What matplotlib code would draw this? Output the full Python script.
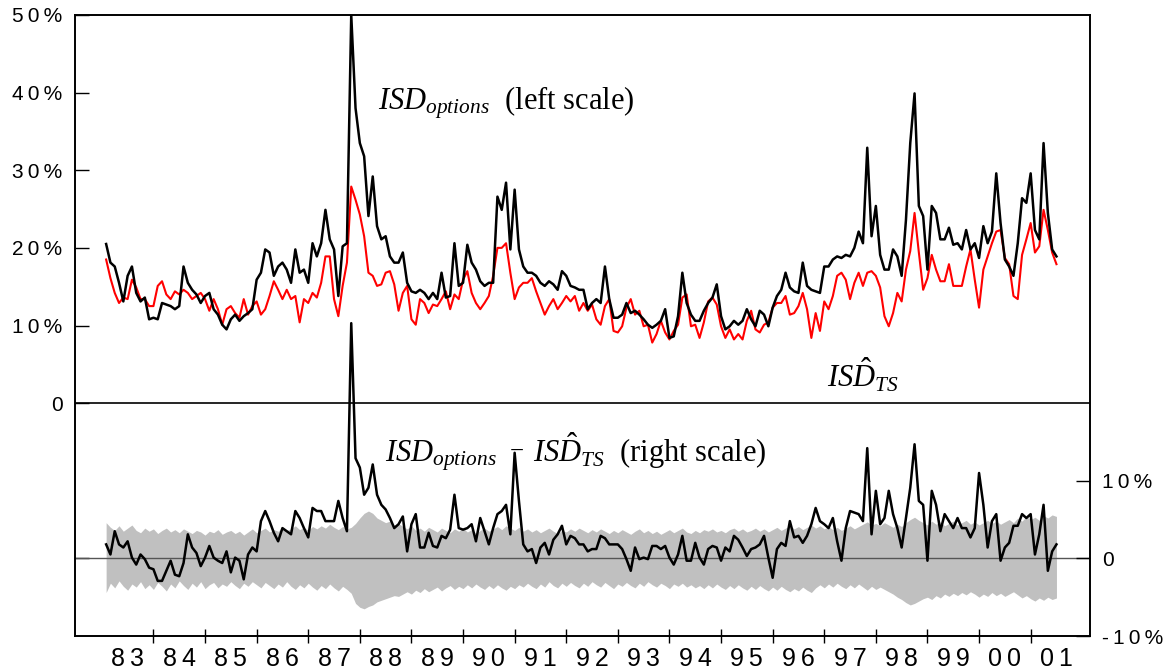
import matplotlib
matplotlib.use("Agg")
import matplotlib.pyplot as plt
import numpy as np
import pandas as pd

plt.rcParams['font.family'] = ['Liberation Sans', 'DejaVu Sans']
plt.rcParams['mathtext.fontset'] = 'custom'
plt.rcParams['mathtext.it'] = 'Liberation Serif:italic'
plt.rcParams['mathtext.rm'] = 'Liberation Serif'

# monthly observations, Feb 1983 .. Jul 2001 (values in %)
dates = pd.date_range('1983-02-01', periods=222, freq='MS')

isd_options = [
    20.5, 18.1, 17.6, 15.5, 13.1, 16.4, 17.6, 14.2, 13.1, 13.6,
    10.8, 11.0, 10.8, 12.9, 12.7, 12.5, 12.1, 12.5, 17.6, 15.5,
    14.6, 14.0, 12.9, 13.8, 14.2, 12.1, 11.4, 10.1, 9.5, 10.8,
    11.4, 10.6, 11.2, 11.6, 12.1, 15.9, 16.8, 19.8, 19.4, 16.4,
    17.6, 18.1, 17.2, 15.5, 19.8, 16.8, 17.2, 15.5, 20.6, 18.9,
    20.6, 24.9, 21.1, 19.8, 13.8, 20.2, 20.6, 50.0, 38.0, 33.5,
    31.8, 24.1, 29.2, 22.8, 21.1, 21.5, 18.9, 18.1, 18.1, 19.4,
    15.5, 14.4, 14.2, 14.6, 14.2, 13.4, 14.2, 13.4, 16.8, 13.6,
    13.8, 20.6, 15.1, 15.5, 20.4, 18.1, 17.2, 15.7, 15.1, 15.5,
    15.5, 26.6, 24.9, 28.4, 19.8, 27.5, 19.8, 17.6, 16.8, 16.8,
    16.4, 15.5, 15.1, 15.7, 15.3, 14.6, 17.0, 16.4, 15.1, 14.9,
    14.6, 14.6, 12.1, 12.9, 13.4, 12.9, 17.6, 13.4, 11.0, 11.0,
    11.4, 12.9, 11.6, 11.9, 11.4, 10.8, 10.1, 9.7, 10.1, 10.6,
    12.1, 8.4, 8.6, 11.2, 16.8, 12.9, 11.4, 10.6, 10.6, 11.9,
    12.9, 13.6, 15.3, 11.2, 9.5, 9.9, 10.6, 10.1, 10.6, 12.1,
    10.8, 9.9, 11.9, 11.4, 9.9, 12.3, 13.8, 14.6, 16.8, 14.9,
    14.4, 14.2, 18.1, 15.1, 14.6, 14.4, 14.2, 17.6, 17.6, 18.5,
    18.9, 18.7, 19.1, 18.9, 20.0, 22.1, 20.6, 32.9, 21.5, 25.4,
    19.1, 17.2, 17.2, 19.8, 18.9, 16.4, 23.6, 33.5, 39.9, 25.4,
    24.1, 17.2, 25.4, 24.5, 21.1, 21.1, 22.6, 20.4, 20.6, 19.8,
    22.3, 19.8, 20.6, 18.7, 22.8, 20.6, 22.1, 29.6, 23.2, 18.5,
    17.6, 16.4, 20.6, 26.4, 25.8, 29.6, 22.3, 21.1, 33.5, 24.5,
    19.8, 18.9,
]

isd_ts = [
    18.5, 16.1, 14.2, 12.9, 13.6, 13.4, 15.9, 14.9, 13.4, 13.4,
    12.5, 12.5, 15.1, 15.7, 14.0, 13.4, 14.4, 14.0, 14.6, 14.2,
    13.4, 13.8, 14.2, 13.4, 11.9, 13.4, 12.1, 10.1, 12.1, 12.5,
    11.6, 11.0, 13.4, 11.4, 12.5, 13.1, 11.4, 12.1, 13.8, 15.7,
    14.6, 13.4, 14.6, 13.4, 13.8, 10.4, 13.4, 12.9, 14.2, 13.6,
    15.5, 18.9, 18.9, 13.4, 11.2, 15.1, 18.1, 27.9, 26.2, 24.3,
    21.5, 16.8, 16.4, 15.1, 15.3, 16.8, 17.0, 15.3, 11.9, 14.2,
    15.1, 10.8, 10.1, 13.4, 12.9, 11.6, 12.7, 12.5, 13.4, 14.4,
    12.1, 14.0, 13.4, 15.9, 17.0, 14.2, 12.9, 12.1, 12.9, 13.8,
    16.4, 20.0, 20.0, 20.6, 16.8, 13.4, 14.9, 15.5, 15.5, 16.1,
    14.4, 12.9, 11.4, 12.5, 13.4, 12.1, 12.9, 13.8, 13.1, 13.8,
    11.9, 12.9, 11.9, 12.7, 10.8, 10.1, 12.5, 13.4, 9.3, 9.1,
    9.9, 12.3, 13.4, 11.4, 11.9, 9.9, 10.1, 7.8, 8.9, 10.6,
    9.1, 8.2, 9.3, 10.1, 13.6, 14.0, 9.9, 10.1, 8.4, 10.4,
    13.1, 13.6, 12.7, 9.9, 8.4, 9.5, 8.2, 8.9, 8.2, 10.6,
    11.9, 9.5, 9.1, 10.1, 10.4, 12.3, 12.9, 12.9, 13.8, 11.4,
    11.6, 12.5, 14.2, 12.1, 8.4, 11.6, 9.3, 13.1, 12.1, 13.8,
    16.4, 16.8, 15.9, 13.4, 15.5, 16.8, 15.1, 16.8, 17.0, 16.4,
    14.9, 11.2, 9.9, 11.6, 14.2, 13.1, 17.2, 19.6, 24.5, 19.4,
    14.6, 16.1, 19.1, 17.2, 15.7, 15.7, 17.9, 15.1, 15.1, 15.1,
    17.6, 19.8, 15.9, 12.3, 17.2, 18.9, 20.6, 22.1, 22.3, 18.7,
    17.9, 13.8, 13.4, 19.1, 21.1, 23.2, 19.4, 20.2, 24.9, 22.3,
    19.4, 17.9,
]

# ISD_options - ISD_TS (right scale)
spread = [
    1.8, 0.5, 3.5, 1.8, 1.4, 2.2, 0.1, -0.8, 0.5, -0.1,
    -1.2, -1.4, -2.9, -2.9, -1.6, -0.3, -2.1, -2.3, -0.6, 3.1,
    1.4, 0.7, -1.0, 0.1, 1.6, 0.1, -0.3, -0.6, 0.9, -1.8,
    0.1, -0.3, -2.7, 0.5, 1.4, 0.9, 4.8, 6.1, 4.8, 3.3,
    2.2, 3.9, 3.5, 3.1, 6.1, 5.2, 3.9, 2.7, 6.5, 6.1,
    6.1, 4.8, 4.8, 4.8, 7.4, 5.2, 3.5, 30.3, 12.9, 11.7,
    8.2, 9.1, 12.1, 8.2, 6.9, 6.3, 5.2, 3.9, 4.4, 5.4,
    0.9, 4.4, 5.7, 1.4, 1.4, 3.3, 1.6, 1.4, 2.9, 2.6,
    3.7, 8.2, 3.9, 3.7, 3.9, 4.4, 2.2, 5.2, 3.5, 1.8,
    3.9, 5.7, 6.1, 6.9, 3.1, 13.6, 7.4, 1.8, 0.9, 1.2,
    -0.6, 1.4, 2.0, 0.5, 2.4, 3.1, 4.2, 1.8, 2.9, 2.6,
    1.8, 1.8, 0.9, 1.2, 1.2, 2.9, 2.6, 1.8, 1.8, 1.8,
    1.2, -0.1, -1.6, 1.4, -0.1, 0.1, -0.1, 1.6, 1.6, 1.2,
    1.6, 0.1, -0.8, 0.5, 2.9, -0.3, -0.3, 2.0, 0.1, -0.8,
    1.2, 1.6, 1.4, -0.3, 1.4, 0.9, 2.9, 2.4, 1.4, 0.3,
    1.2, 1.4, 1.8, 2.9, 0.1, -2.5, 1.2, 2.0, 1.6, 4.8,
    2.7, 2.9, 2.0, 2.9, 4.4, 6.5, 4.8, 4.4, 3.9, 5.2,
    2.2, -0.3, 3.9, 6.1, 5.9, 5.7, 4.8, 14.2, 3.1, 8.7,
    4.4, 5.2, 8.7, 5.7, 3.9, 1.4, 5.2, 9.1, 14.7, 7.4,
    6.9, -0.3, 8.7, 6.9, 3.5, 5.7, 4.8, 3.9, 5.2, 3.9,
    3.9, 2.7, 3.9, 11.0, 6.9, 1.4, 4.8, 5.7, -0.3, 1.4,
    2.0, 4.2, 4.2, 5.7, 5.2, 5.7, 0.5, 3.1, 6.9, -1.6,
    0.9, 1.8,
]

band_hi = [
    4.6, 4.0, 3.6, 4.2, 3.5, 3.9, 4.3, 3.6, 3.3, 3.9,
    3.5, 3.8, 3.2, 3.6, 3.9, 3.4, 3.7, 3.3, 3.8, 3.5,
    3.2, 3.6, 3.4, 3.0, 3.5, 3.3, 3.7, 3.1, 3.4, 3.6,
    3.2, 3.5, 3.0, 3.4, 3.8, 3.3, 3.6, 3.9, 3.4, 3.7,
    3.5, 4.0, 3.6, 3.8, 4.2, 3.7, 4.0, 3.6, 4.1, 3.8,
    4.2, 3.9, 4.4, 4.0, 3.7, 4.1, 3.8, 4.0, 4.5, 5.2,
    5.8, 6.1, 5.8, 5.2, 4.9, 4.6, 4.8, 4.3, 4.5, 4.1,
    3.8, 4.2, 3.6, 3.9, 3.5, 4.0, 3.7, 3.4, 3.9, 3.6,
    3.3, 3.8, 3.5, 3.9, 3.4, 3.7, 3.2, 3.6, 3.9, 3.5,
    3.8, 4.1, 3.7, 4.2, 3.9, 3.6, 4.0, 3.5, 3.8, 3.4,
    3.7, 3.3, 3.6, 3.9, 3.5, 3.2, 3.6, 3.4, 3.8, 3.5,
    3.9, 3.6, 3.3, 3.7, 3.4, 3.8, 3.5, 3.2, 3.6, 3.3,
    3.7, 3.4, 3.1, 3.5, 3.8, 3.3, 3.6, 3.2, 3.5, 3.1,
    3.4, 3.7, 3.3, 3.6, 3.9, 3.4, 3.2, 3.6, 3.3, 3.7,
    3.5, 3.8, 3.4, 3.6, 3.3, 3.7, 3.9, 3.5, 3.8, 3.4,
    3.6, 3.9, 3.5, 3.8, 3.4, 3.7, 4.0, 3.6, 3.9, 4.2,
    3.8, 4.1, 3.7, 4.0, 4.3, 3.9, 4.2, 3.8, 4.1, 3.7,
    4.0, 3.6, 3.9, 4.2, 3.8, 4.1, 4.4, 4.7, 4.3, 4.5,
    4.2, 4.6, 4.3, 4.0, 4.4, 4.1, 4.6, 5.0, 5.3, 4.9,
    4.6, 4.3, 4.8, 4.4, 4.7, 4.2, 4.5, 4.8, 4.3, 4.6,
    4.9, 4.4, 4.7, 4.3, 4.6, 4.9, 4.5, 4.8, 4.4, 4.7,
    5.0, 4.6, 5.2, 4.8, 5.4, 5.0, 5.3, 4.9, 5.5, 5.2,
    5.6, 5.4,
]

band_lo = [
    -4.4, -3.2, -3.8, -2.9, -3.6, -4.1, -3.3, -3.7, -3.0, -3.9,
    -3.4, -4.0, -3.1, -3.6, -4.2, -3.3, -3.8, -2.9, -3.5, -4.0,
    -3.2, -3.7, -3.0, -3.9, -3.4, -3.1, -3.8, -3.3, -3.6, -3.0,
    -3.5, -3.9, -3.2, -3.6, -3.0, -3.4, -3.8, -3.1, -3.5, -3.9,
    -3.3, -3.7, -3.0, -3.6, -4.0, -3.4, -3.8, -3.2, -3.7, -4.1,
    -3.5, -3.9, -3.3, -3.8, -4.2, -3.6, -4.0, -4.5, -5.8, -6.3,
    -6.5, -6.2, -6.0, -5.6, -5.4, -5.2, -5.0, -4.8, -4.9, -4.6,
    -4.3, -4.6, -4.1, -4.4, -3.9, -4.3, -4.0, -3.7, -4.2, -3.8,
    -3.5, -4.0, -3.6, -3.9, -3.4, -3.8, -3.3, -3.7, -4.0, -3.5,
    -3.9, -3.4, -3.8, -4.1, -3.6, -3.9, -3.4, -3.7, -3.2, -3.6,
    -3.9, -3.3, -3.7, -3.0, -3.5, -3.8, -3.2, -3.6, -3.1, -3.5,
    -3.8, -3.2, -3.6, -3.0, -3.4, -3.7, -3.1, -3.5, -3.9, -3.3,
    -3.6, -3.1, -3.5, -3.8, -3.2, -3.6, -3.0, -3.4, -3.7, -3.2,
    -3.5, -3.9, -3.3, -3.6, -3.2, -3.7, -3.4, -3.8, -3.5, -3.9,
    -3.4, -3.8, -3.3, -3.7, -4.0, -3.5, -3.9, -3.4, -3.8, -4.1,
    -3.6, -4.0, -3.5, -3.9, -4.2, -3.7, -4.1, -3.6, -4.0, -4.3,
    -3.9, -4.2, -3.7, -4.1, -4.4, -3.8, -3.4, -3.8, -3.3, -3.7,
    -3.2, -3.6, -3.9, -3.4, -3.8, -3.3, -3.7, -4.1, -3.6, -4.0,
    -3.7, -4.0, -4.3, -4.6, -5.0, -5.3, -5.7, -6.0, -5.8, -5.5,
    -5.2, -5.0, -5.3, -4.8, -5.1, -4.6, -4.9, -4.5, -4.8, -4.4,
    -4.7, -4.3, -4.6, -5.0, -4.6, -4.9, -4.4, -4.8, -4.5, -4.9,
    -4.6, -4.3, -4.7, -5.1, -4.8, -5.2, -5.5, -5.1, -5.4, -5.0,
    -5.3, -5.1,
]

years = list(range(1983, 2002))
year_labels = ['%02d' % (y % 100) for y in years]
left_labels = ['', '0', '10%', '20%', '30%', '40%', '50%']
right_labels = ['-10%', '0', '10%']


def spaced(s):
    # the original tick labels are drawn with wide letter spacing
    return '\u2009'.join(s)


t = dates.year + (dates.month - 1) / 12.0
top_black = np.array(isd_options) / 100
top_red = np.array(isd_ts) / 100
# lower panel sits 20 points below on the left scale (right scale = left + 0.2)
shift = 0.20
low = np.array(spread) / 100 - shift
hi = np.array(band_hi) / 100 - shift
lo = np.array(band_lo) / 100 - shift

fig = plt.figure(figsize=(11.72, 6.71), dpi=100)
ax = fig.add_axes([75 / 1172, 35 / 671, 1015 / 1172, 621 / 671])

ax.fill_between(t, lo, hi, color='#c0c0c0', lw=0, zorder=1)
ax.axhline(-shift, color='#555555', lw=1.0, zorder=2)
ax.axhline(0, color='black', lw=1.2, zorder=2)
ax.plot(t, low, color='black', lw=1.8, zorder=3)
ax.plot(t, top_red, color='#ff0000', lw=1.5, zorder=3)
ax.plot(t, top_black, color='black', lw=1.8, zorder=4)

ax.set_xlim(1982.48, 2002.15)
ax.set_ylim(-0.30, 0.50)

ax.set_xticks(years[1:])
ax.set_xticklabels([])
ax.set_xticks([y + 0.5 for y in years], minor=True)
ax.set_xticklabels([spaced(s) for s in year_labels], minor=True, fontsize=18)
ax.tick_params(axis='x', which='major', direction='inout', length=9.5, width=1)
ax.tick_params(axis='x', which='minor', length=0, pad=8)

ax.set_yticks([-0.2, 0, 0.1, 0.2, 0.3, 0.4, 0.5])
ax.set_yticklabels([spaced(s) for s in left_labels], fontsize=15)
ax.tick_params(axis='y', direction='in', length=10, width=1, pad=9)

ax2 = ax.twinx()
ax2.set_ylim(-0.10, 0.70)
ax2.set_yticks([-0.1, 0, 0.1])
ax2.set_yticklabels([spaced(s) for s in right_labels], fontsize=15)
ax2.tick_params(axis='y', direction='in', length=10, width=1, pad=9)

for a in (ax, ax2):
    for s in a.spines.values():
        s.set_linewidth(1.2)

serif = 'Liberation Serif'
ax.text(1988.35, 0.378, r'$ISD_{options}$  (left scale)', fontsize=22,
        family=serif, va='baseline', zorder=5)
ax.text(1997.05, 0.0206, r'$IS\hat{D}_{TS}$', fontsize=22,
        family=serif, va='baseline', zorder=5)
ax.text(1988.48, -0.0758, r'$ISD_{options}$', fontsize=22,
        family=serif, va='baseline', zorder=5)
ax.text(1991.04, -0.063, '\u2212', fontsize=18, family=serif,
        ha='center', va='center', zorder=5)
ax.text(1991.35, -0.0758, r'$IS\hat{D}_{TS}$  (right scale)', fontsize=22,
        family=serif, va='baseline', zorder=5)

fig.savefig('out.png', dpi=100)
